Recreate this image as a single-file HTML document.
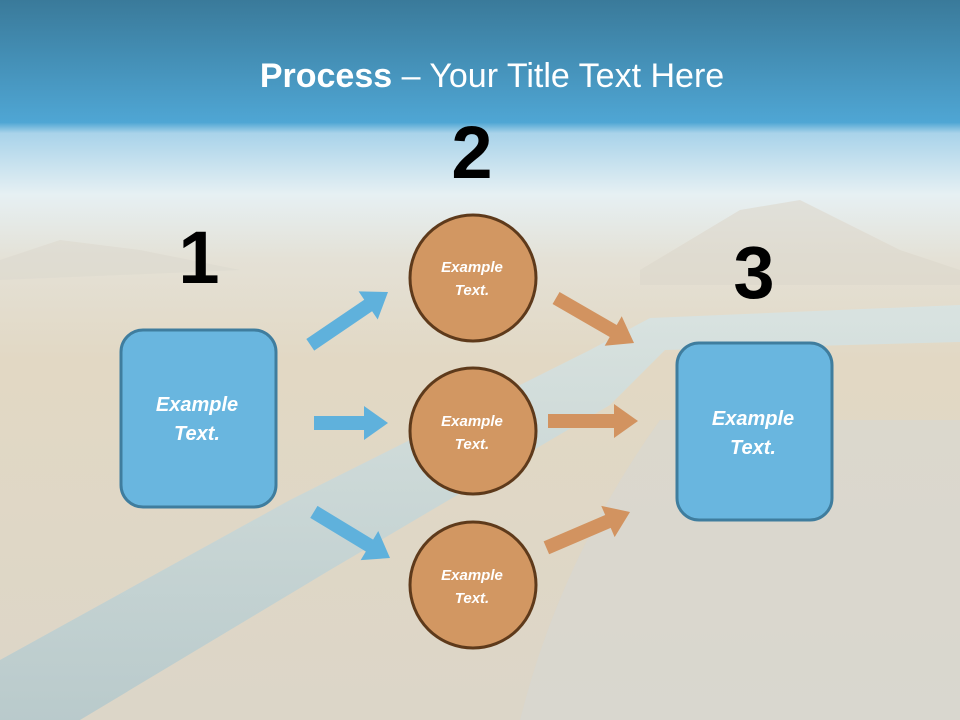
<!DOCTYPE html>
<html><head><meta charset="utf-8"><style>
html,body{margin:0;padding:0;width:960px;height:720px;overflow:hidden;font-family:"Liberation Sans",sans-serif}
</style></head><body>
<svg width="960" height="720" viewBox="0 0 960 720" xmlns="http://www.w3.org/2000/svg">
<defs>
<linearGradient id="bg" x1="0" y1="0" x2="0" y2="1">
<stop offset="0" stop-color="#3a7a9a"/>
<stop offset="0.17" stop-color="#4fa6d4"/>
<stop offset="0.185" stop-color="#a9d3ea"/>
<stop offset="0.27" stop-color="#e6f0f3"/>
<stop offset="0.36" stop-color="#e4e1d6"/>
<stop offset="0.5" stop-color="#e2d8c4"/>
<stop offset="1" stop-color="#dcd6c8"/>
</linearGradient>
<linearGradient id="pipe" x1="0" y1="0" x2="0" y2="1">
<stop offset="0" stop-color="#d7e4e4"/>
<stop offset="1" stop-color="#b3c8cc"/>
</linearGradient>
</defs>
<rect width="960" height="720" fill="url(#bg)"/>
<path d="M0,260 L60,240 L140,250 L240,270 L0,280Z" fill="#dcd9cf" opacity="0.6"/>
<path d="M640,270 L740,210 L800,200 L900,250 L960,270 L960,285 L640,285Z" fill="#dcd7cb" opacity="0.6"/>
<path d="M520,720 Q560,560 660,420 L960,420 L960,720Z" fill="#d6d8d6" opacity="0.5"/>
<polygon points="0,660 290,500 590,350 650,318 960,305 960,342 665,350 610,405 330,570 80,720 0,720" fill="url(#pipe)" opacity="0.85"/>
<text x="492" y="87" text-anchor="middle" fill="#fff" font-size="34"><tspan font-weight="bold">Process</tspan> – Your Title Text Here</text>
<text x="472" y="178" text-anchor="middle" font-size="74" font-weight="bold" fill="#000">2</text>
<text x="199" y="283" text-anchor="middle" font-size="74" font-weight="bold" fill="#000">1</text>
<text x="754" y="298" text-anchor="middle" font-size="74" font-weight="bold" fill="#000">3</text>
<g fill="#5fb1dc">
<polygon transform="translate(388,292) rotate(-34.2)" points="0,0 -24,-17 -24,-7 -94,-7 -94,7 -24,7 -24,17"/>
<polygon transform="translate(388,423)" points="0,0 -24,-17 -24,-7 -74,-7 -74,7 -24,7 -24,17"/>
<polygon transform="translate(390,558) rotate(31.2)" points="0,0 -24,-17 -24,-7 -89,-7 -89,7 -24,7 -24,17"/>
</g>
<g fill="#d29360">
<polygon transform="translate(634,343) rotate(30)" points="0,0 -24,-17 -24,-7 -90,-7 -90,7 -24,7 -24,17"/>
<polygon transform="translate(638,421)" points="0,0 -24,-17 -24,-7 -90,-7 -90,7 -24,7 -24,17"/>
<polygon transform="translate(630,512) rotate(-23.2)" points="0,0 -24,-17 -24,-7 -91,-7 -91,7 -24,7 -24,17"/>
</g>
<rect x="121" y="330" width="155" height="177" rx="22" fill="#69b6df" stroke="#3f7d9e" stroke-width="3"/>
<rect x="677" y="343" width="155" height="177" rx="22" fill="#69b6df" stroke="#3f7d9e" stroke-width="3"/>
<g fill="#d29762" stroke="#5e3a1b" stroke-width="3">
<circle cx="473" cy="278" r="63"/>
<circle cx="473" cy="431" r="63"/>
<circle cx="473" cy="585" r="63"/>
</g>
<g fill="#fff" font-weight="bold" font-style="italic" text-anchor="middle">
<text x="197" y="411" font-size="20">Example</text><text x="197" y="440" font-size="20">Text.</text>
<text x="753" y="425" font-size="20">Example</text><text x="753" y="454" font-size="20">Text.</text>
<text x="472" y="272" font-size="15">Example</text><text x="472" y="295" font-size="15">Text.</text>
<text x="472" y="426" font-size="15">Example</text><text x="472" y="449" font-size="15">Text.</text>
<text x="472" y="580" font-size="15">Example</text><text x="472" y="603" font-size="15">Text.</text>
</g>
</svg>
</body></html>
